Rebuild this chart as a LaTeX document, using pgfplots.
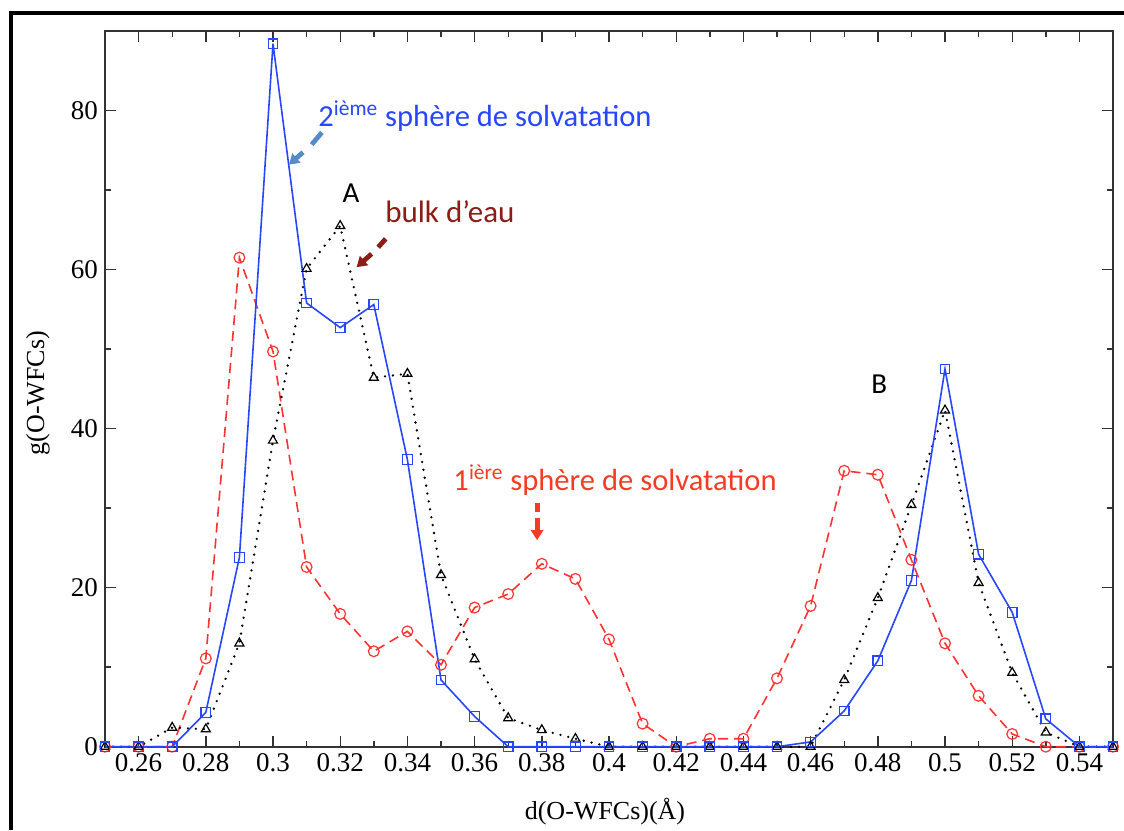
\documentclass[border=0pt]{standalone}
\usepackage{pgfplots}
\pgfplotsset{compat=1.18}
\usepackage{pgfplotstable}
\usepackage{fontspec}
\setmainfont{Liberation Serif}
\newfontfamily\calibri{Carlito}
\usetikzlibrary{arrows.meta}

\definecolor{cblue}{RGB}{40,70,255}
\definecolor{cred}{RGB}{255,50,50}
\definecolor{ablue}{RGB}{85,140,200}
\definecolor{abrown}{RGB}{140,28,22}
\definecolor{ared}{RGB}{245,60,35}

\pgfplotstableread{
x y
0.25 0
0.26 0
0.27 0
0.28 4.3
0.29 23.8
0.30 88.4
0.31 55.8
0.32 52.7
0.33 55.6
0.34 36.1
0.35 8.4
0.36 3.8
0.37 0
0.38 0
0.39 0
0.40 0
0.41 0
0.42 0
0.43 0
0.44 0
0.45 0
0.46 0.6
0.47 4.5
0.48 10.8
0.49 20.9
0.50 47.5
0.51 24.2
0.52 16.9
0.53 3.5
0.54 0
0.55 0
}\blueT

\pgfplotstableread{
x y
0.25 0
0.26 0
0.27 2.4
0.28 2.2
0.29 13.0
0.30 38.5
0.31 60.1
0.32 65.5
0.33 46.4
0.34 46.9
0.35 21.6
0.36 11.0
0.37 3.6
0.38 2.1
0.39 1.0
0.40 0
0.41 0
0.42 0
0.43 0
0.44 0
0.45 0
0.46 0
0.47 8.4
0.48 18.7
0.49 30.4
0.50 42.3
0.51 20.6
0.52 9.3
0.53 1.8
0.54 0
0.55 0
}\blackT

\pgfplotstableread{
x y
0.25 0
0.26 0
0.27 0
0.28 11.1
0.29 61.5
0.30 49.7
0.31 22.6
0.32 16.7
0.33 12.0
0.34 14.5
0.35 10.3
0.36 17.5
0.37 19.2
0.38 23.0
0.39 21.1
0.40 13.5
0.41 2.9
0.42 0
0.43 1.0
0.44 1.0
0.45 8.6
0.46 17.7
0.47 34.7
0.48 34.2
0.49 23.5
0.50 13.0
0.51 6.4
0.52 1.6
0.53 0
0.54 0
0.55 0
}\redT

\begin{document}
\begin{tikzpicture}
\path[use as bounding box] (0,0) rectangle (562pt,415pt);
\begin{axis}[
  at={(52.5pt,41.65pt)}, anchor=south west,
  scale only axis, width=504pt, height=357.85pt,
  xmin=0.25, xmax=0.55, ymin=0, ymax=90,
  xtick={0.26,0.28,0.30,0.32,0.34,0.36,0.38,0.40,0.42,0.44,0.46,0.48,0.50,0.52,0.54},
  xticklabels={0.26,0.28,0.3,0.32,0.34,0.36,0.38,0.4,0.42,0.44,0.46,0.48,0.5,0.52,0.54},
  ytick={0,20,40,60,80},
  yticklabels={0,20,40,60,80},
  minor x tick num=1, minor y tick num=1,
  tick align=inside, tick pos=both,
  major tick length=5.5pt, minor tick length=2.8pt,
  tick style={black!80, line width=0.7pt},
  axis line style={black!80, line width=0.8pt},
  ticklabel style={font=\fontsize{13.5}{16}\selectfont},
  xlabel={d(O-WFCs)(Å)}, ylabel={g(O-WFCs)},
  label style={font=\fontsize{13}{15}\selectfont},
  xlabel style={at={(axis description cs:0.496,-0.0912)}, anchor=center},
  ylabel style={at={(axis description cs:-0.0665,0.494)}, anchor=center, rotate=0},
  clip=false,
]
\addplot[cred, line width=0.8pt, dash pattern=on 5pt off 3pt, mark=o, mark size=2.7pt, mark options={solid, line width=0.6pt}] table[x=x,y=y]{\redT};
\addplot[black, line width=1.3pt, dash pattern=on 0pt off 4pt, line cap=round, mark=triangle, mark size=2.6pt, mark options={solid, line width=0.6pt, line cap=butt}] table[x=x,y=y]{\blackT};
\addplot[cblue, line width=0.8pt, mark=square, mark size=2.4pt, mark options={solid, line width=0.6pt}] table[x=x,y=y]{\blueT};

\node[anchor=base west, text=cblue, inner sep=0pt, font=\calibri\fontsize{15.3}{19}\selectfont] at (axis cs:0.3134,78.0) {2\textsuperscript{ième} sphère de solvatation};
\node[anchor=base west, text=abrown, inner sep=0pt, font=\calibri\fontsize{15.5}{19}\selectfont] at (axis cs:0.3333,65.9) {bulk d’eau};
\node[anchor=base west, text=ared, inner sep=0pt, font=\calibri\fontsize{15.3}{19}\selectfont] at (axis cs:0.3536,32.25) {1\textsuperscript{ière} sphère de solvatation};
\node[text=black, inner sep=0pt, font=\calibri\fontsize{14.5}{17}\selectfont] at (axis cs:0.3232,69.56) {A};
\node[text=black, inner sep=0pt, font=\calibri\fontsize{14.5}{17}\selectfont] at (axis cs:0.4804,45.57) {B};

\draw[ablue, line width=2.4pt] (axis cs:0.31455,77.25) -- (axis cs:0.31152,75.72);
\draw[ablue, line width=2.4pt, -{Triangle[length=5pt,width=6pt]}] (axis cs:0.30893,74.75) -- (axis cs:0.30476,73.2);
\draw[abrown, line width=2.4pt] (axis cs:0.33354,63.87) -- (axis cs:0.33131,62.81);
\draw[abrown, line width=2.4pt, -{Triangle[length=5pt,width=6pt]}] (axis cs:0.32935,61.98) -- (axis cs:0.32488,60.3);
\draw[ared, line width=2.4pt] (axis cs:0.3786,30.6) -- (axis cs:0.3786,29.49);
\draw[ared, line width=2.4pt, -{Triangle[length=5pt,width=6pt]}] (axis cs:0.3786,28.74) -- (axis cs:0.3786,25.97);
\end{axis}
\draw[black, line width=2pt] (5.5pt,0pt) -- (5.5pt,408.5pt) -- (562pt,408.5pt);
\end{tikzpicture}
\end{document}
